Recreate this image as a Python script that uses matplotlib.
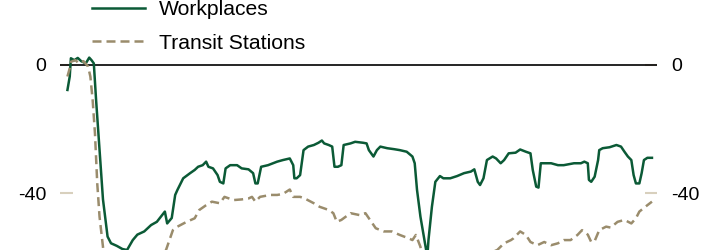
import matplotlib
matplotlib.use("Agg")
import matplotlib.pyplot as plt

plt.rcParams['font.family'] = ['Liberation Sans', 'DejaVu Sans']

# days since start of series, and % change vs baseline
wp_day = [0, 2, 3, 6, 9, 12, 16, 19, 21, 23, 25, 28, 31, 35, 38, 43, 48, 52, 57, 61,
          67, 73, 78, 85, 87, 91, 94, 96, 101, 107, 111, 114, 118, 121, 123, 127, 131, 133, 136, 138,
          142, 148, 152, 158, 162, 164, 166, 169, 175, 183, 188, 194, 197, 198, 200, 203, 206, 210, 215, 219,
          222, 224, 228, 231, 233, 236, 239, 241, 247, 251, 258, 261, 263, 267, 270, 273, 279, 285, 290, 296,
          301, 303, 305, 308, 311, 314, 315, 318, 321, 325, 328, 331, 334, 340, 346, 352, 355, 358, 360, 363,
          366, 371, 374, 378, 381, 385, 391, 395, 400, 404, 406, 409, 411, 413, 417, 422, 428, 433, 442, 448,
          451, 454, 455, 457, 460, 463, 464, 467, 473, 479, 483, 486, 489, 492, 494, 496, 499, 501, 503, 506, 510]
wp_val = [-7.8, -3.6, 2.1, 1.5, 2.2, 1.2, 0.5, 2.3, 1.5, 0.5, -11, -26.5, -42, -53.6, -55.7, -56.5, -57.5, -57.8, -54.7, -53,
          -52, -50, -49, -45.8, -49.5, -47.8, -40.6, -39, -35.4, -33.8, -32.8, -31.8, -31.3, -30.2, -31.8, -32.3, -34.4, -36.5, -37, -32.3,
          -31.3, -31.3, -32.3, -32.6, -33.8, -37, -37, -31.8, -31.3, -30.2, -29.7, -29.2, -31.3, -35.4, -35.4, -34.4, -26.6, -25.5, -25, -24.3,
          -23.6, -24.5, -25, -25.5, -31.8, -31.8, -31.3, -25, -24.5, -24, -24.3, -24.5, -26.6, -28.6, -26.6, -25.5, -26, -26.3, -26.6, -27.1,
          -28.6, -30.7, -39, -47.4, -53.6, -60, -54.7, -44.3, -36.5, -34.7, -35.4, -35.4, -35.4, -34.7, -33.8, -33.3, -32.6, -36.5, -37.5, -35.4,
          -29.7, -28.6, -29.2, -30.7, -29.7, -27.6, -27.4, -26.4, -27.1, -27.6, -32.8, -38, -38.3, -30.7, -30.7, -30.7, -31.3, -31.3, -30.7, -30.7,
          -30.2, -30.7, -35.9, -36.5, -34.9, -29.7, -26.6, -26, -25.7, -25, -25.5, -27.1, -28.6, -29.7, -34.4, -37, -37, -33.8, -29.7, -29, -29]

tr_day = [0, 2, 3, 7, 10, 14, 18, 20, 22, 24, 26, 28, 31, 33, 37, 44, 54, 67, 76, 82,
          86, 89, 92, 96, 104, 111, 115, 121, 126, 133, 137, 145, 152, 158, 161, 164, 168, 177, 183, 188,
          191, 194, 197, 203, 207, 215, 220, 228, 232, 235, 239, 247, 255, 260, 264, 269, 276, 283, 290, 298,
          301, 304, 308, 311, 315, 321, 330, 343, 356, 367, 375, 381, 387, 389, 395, 400, 404, 410, 416, 422,
          428, 433, 439, 445, 449, 454, 457, 460, 464, 470, 474, 480, 486, 492, 496, 499, 506, 510]
tr_val = [-3.6, -1, 1, 1.5, 0.5, 1.2, -0.5, -3.6, -11, -21.3, -37, -47.4, -56.8, -65, -71, -74, -72, -68, -65, -60,
          -57.8, -54.7, -51.6, -50.5, -49, -47.9, -45.3, -43.8, -42.7, -43.2, -41.2, -42.2, -42, -41.7, -41.2, -42.7, -41.2, -40.6, -40.6, -40.3,
          -39.6, -38.9, -41.2, -41.2, -41.7, -43.2, -44.3, -45.3, -46.3, -49, -48.4, -46.3, -46.9, -46.3, -48.4, -51, -52, -52, -53.1, -54.2,
          -54.7, -53.1, -56.8, -65, -72, -70, -66, -63, -61, -59, -57.8, -55.7, -54.7, -54.2, -52, -53.1, -55.3, -56.3, -55.3, -56.3,
          -55.7, -54.7, -54.7, -53.1, -51.6, -53, -55.3, -55, -51.6, -50.5, -50.8, -49, -48.4, -49.5, -47.9, -45.8, -43.8, -42.7]

y_ticks = [0, -40]

fig = plt.figure(figsize=(7.25, 2.5), dpi=100)
ax = fig.add_axes([60 / 725, 0, 597 / 725, 1])

ax.plot(wp_day, wp_val, color='#0b5a36', lw=1.8, label='Workplaces', zorder=4)
ax.plot(tr_day, tr_val, color='#9a8c6c', lw=1.8, dashes=(3.6, 2), label='Transit Stations', zorder=4)
ax.axhline(0, color='black', lw=1.2, zorder=3)

ax.set_xticks([])
ax.set_yticks(y_ticks)
ax.set_yticklabels([str(t) for t in y_ticks])
ax.set_xlim(-6.5, 514.4)
ax.set_ylim(-57.8, 20.3)
ax.tick_params(axis='y', direction='in', length=9, width=1.5, color='#d8d0bd',
               labelsize=14, pad=10, left=True, right=True, labelleft=True, labelright=True)
for s in ax.spines.values():
    s.set_visible(False)

ax.legend(loc='upper left', bbox_to_anchor=(0.054, 1.0), frameon=False, fontsize=15.2,
          handlelength=2.5, handletextpad=0.65, labelspacing=0.7, borderpad=0, borderaxespad=0)

fig.savefig('out.png', dpi=100)
